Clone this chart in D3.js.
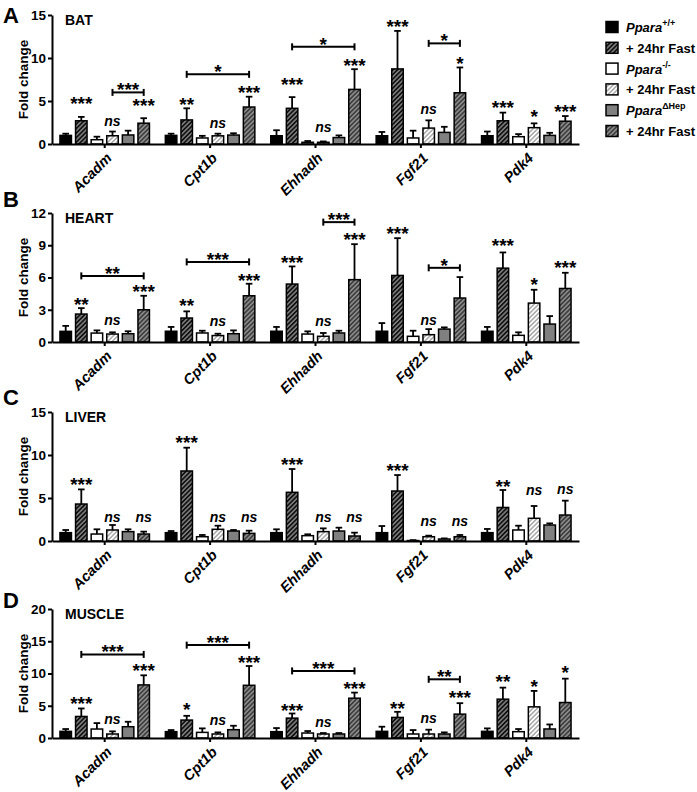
<!DOCTYPE html>
<html><head><meta charset="utf-8">
<script src="https://cdn.jsdelivr.net/npm/d3@7"></script>
<style>body{margin:0;background:#fff} svg{display:block;font-family:"Liberation Sans",Arial,sans-serif}</style>
</head><body><svg id="c" width="697" height="792"></svg>
<script>
const genes = ["Acadm","Cpt1b","Ehhadh","Fgf21","Pdk4"];
const tissues = ["BAT","HEART","LIVER","MUSCLE"];
const panelLetters = ["A","B","C","D"];
const yMaxes = [15,12,15,20];
const yTicks = [[0,5,10,15],[0,3,6,9,12],[0,5,10,15],[0,5,10,15,20]];
const legendMain = ["Ppara","+ 24hr Fast","Ppara","+ 24hr Fast","Ppara","+ 24hr Fast"];
const legendSup = ["+/+","","-/-","","\u0394Hep",""];

// mean fold change per gene, 6 groups each
const batMean = [[1.0,2.7,0.5,0.96,1.05,2.42],[1.0,2.8,0.7,0.95,1.04,4.3],[0.96,4.15,0.2,0.2,0.75,6.35],[0.96,8.73,0.7,1.85,1.35,5.96],[0.96,2.7,0.85,1.9,1.0,2.65]];
const batSem = [[0.2,0.45,0.35,0.49,0.5,0.58],[0.2,1.35,0.25,0.25,0.21,1.2],[0.64,1.3,0.15,0.1,0.25,2.35],[0.44,4.42,0.85,0.9,0.65,2.94],[0.49,0.95,0.3,0.5,0.3,0.6]];
const heartMean = [[0.99,2.6,0.83,0.74,0.77,3.0],[1.0,2.23,0.84,0.6,0.77,4.3],[1.0,5.39,0.74,0.53,0.84,5.8],[1.0,6.19,0.53,0.68,1.2,4.09],[1.0,6.87,0.62,3.62,1.67,4.98]];
const heartSem = [[0.51,0.55,0.25,0.16,0.23,1.3],[0.4,0.62,0.21,0.17,0.31,1.12],[0.4,1.64,0.25,0.31,0.21,3.3],[0.76,3.47,0.52,0.52,0.16,1.95],[0.4,1.46,0.28,1.24,0.74,1.46]];
const liverMean = [[0.97,4.3,0.81,1.28,1.09,0.81],[0.97,8.14,0.5,1.36,1.16,0.89],[0.97,5.66,0.62,1.09,1.16,0.58],[0.97,5.81,0.05,0.5,0.23,0.5],[0.97,3.9,1.28,2.64,1.86,3.02]];
const liverSem = [[0.31,1.7,0.55,0.58,0.27,0.28],[0.19,2.71,0.2,0.42,0.12,0.31],[0.39,2.71,0.16,0.38,0.39,0.39],[0.77,1.86,0.05,0.12,0.07,0.2],[0.43,2.03,0.5,1.43,0.19,1.67]];
const muscleMean = [[1.03,3.34,1.39,0.62,1.75,8.23],[0.98,2.78,0.87,0.62,1.29,8.17],[0.98,3.08,0.77,0.62,0.62,6.17],[1.03,3.19,0.62,0.62,0.62,3.7],[1.03,6.02,0.98,4.83,1.4,5.5]];
const muscleSem = [[0.36,1.24,0.92,0.41,0.77,1.49],[0.25,0.66,0.62,0.25,0.61,2.99],[0.56,0.72,0.31,0.15,0.15,0.87],[0.72,0.87,0.61,0.67,0.25,1.7],[0.46,1.79,0.41,2.47,0.7,3.7]];

// significance labels: [gene index, group index, text, level]
const batLabels = [[0,1,"***",4.8],[0,3,"ns",2.1],[0,5,"***",4.6],[1,1,"**",4.7],[1,3,"ns",1.9],[1,5,"***",6.1],[2,1,"***",7.0],[2,3,"ns",1.4],[2,5,"***",9.2],[3,1,"***",13.8],[3,3,"ns",3.5],[3,5,"*",9.5],[4,1,"***",4.3],[4,3,"*",3.3],[4,5,"***",3.9]];
const heartLabels = [[0,1,"**",3.6],[0,3,"ns",1.6],[0,5,"***",4.8],[1,1,"**",3.5],[1,3,"ns",1.45],[1,5,"***",5.85],[2,1,"***",7.5],[2,3,"ns",1.45],[2,5,"***",9.65],[3,1,"***",10.2],[3,3,"ns",1.6],[4,1,"***",9.05],[4,3,"*",5.4],[4,5,"***",7.0]];
const liverLabels = [[0,1,"***",6.7],[0,3,"ns",2.25],[0,5,"ns",2.25],[1,1,"***",11.55],[1,3,"ns",2.25],[1,5,"ns",2.25],[2,1,"***",9.0],[2,3,"ns",2.25],[2,5,"ns",2.25],[3,1,"***",8.25],[3,3,"ns",1.75],[3,5,"ns",1.75],[4,1,"**",6.5],[4,3,"ns",5.4],[4,5,"ns",5.5]];
const muscleLabels = [[0,1,"***",5.5],[0,3,"ns",2.15],[0,5,"***",10.55],[1,1,"*",4.5],[1,3,"ns",2.0],[1,5,"***",11.9],[2,1,"***",4.4],[2,3,"ns",1.65],[2,5,"***",7.8],[3,1,"**",4.7],[3,3,"ns",2.3],[3,5,"***",6.4],[4,1,"**",8.95],[4,3,"*",8.1],[4,5,"*",10.3]];
// brackets: [gene index, from group, to group, text, level]
const batBrackets = [[0,3,5,"***",6.0],[1,1,5,"*",8.1],[2,1,5,"*",11.3],[3,3,5,"*",11.7]];
const heartBrackets = [[0,1,5,"**",6.15],[1,1,5,"***",7.45],[2,3,5,"***",11.15],[3,3,5,"*",6.9]];
const liverBrackets = [];
const muscleBrackets = [[0,1,5,"***",12.96],[1,1,5,"***",14.4],[2,1,5,"***",10.4],[3,3,5,"**",9.1]];

const means = [batMean,heartMean,liverMean,muscleMean];
const sems = [batSem,heartSem,liverSem,muscleSem];
const labelSets = [batLabels,heartLabels,liverLabels,muscleLabels];
const bracketSets = [batBrackets,heartBrackets,liverBrackets,muscleBrackets];

const svg = d3.select("#c");
svg.append("rect").attr("width",697).attr("height",792).attr("fill","#fff");
const defs = svg.append("defs");
function hatch(id,bg,fg,w){
  const s=3.2;
  const p=defs.append("pattern").attr("id",id).attr("patternUnits","userSpaceOnUse")
    .attr("width",s).attr("height",s).attr("patternTransform","rotate(45)");
  p.append("rect").attr("width",s).attr("height",s).attr("fill",bg);
  p.append("line").attr("x1",0.8).attr("x2",0.8).attr("y1",-1).attr("y2",s+1).attr("stroke",fg).attr("stroke-width",w);
}
hatch("h1","#808080","#111",1.8);
hatch("h2","#fff","#9a9a9a",1.3);
hatch("h3","#8a8a8a","#333",1.4);
const fills = ["#000","url(#h1)","#fff","url(#h2)","#808080","url(#h3)"];

const panelTops = [15,213,412,609];
const plotH = 129;
const letterY = [23,207,405,608];
const x0 = d3.scaleBand().domain(genes).range([52,579]);
const x1 = d3.scaleBand().domain(d3.range(6)).range([0,x0.bandwidth()]).paddingInner(0.263).paddingOuter(0.51);
const cx = (gi,k)=>x0(genes[gi])+x1(k)+x1.bandwidth()/2;
const starFs = 19;

tissues.forEach((t,p)=>{
  const top = panelTops[p], bot = top+plotH;
  const y = d3.scaleLinear().domain([0,yMaxes[p]]).range([bot,top]);
  const g = svg.append("g");
  genes.forEach((gn,gi)=>{
    means[p][gi].forEach((m,k)=>{
      const s = sems[p][gi][k];
      const c = cx(gi,k);
      g.append("line").attr("x1",c).attr("x2",c).attr("y1",y(m)).attr("y2",y(m+s)).attr("stroke","#000").attr("stroke-width",1.8);
      g.append("line").attr("x1",c-3.3).attr("x2",c+3.3).attr("y1",y(m+s)).attr("y2",y(m+s)).attr("stroke","#000").attr("stroke-width",1.8);
      g.append("rect").attr("x",x0(gn)+x1(k)).attr("width",x1.bandwidth())
        .attr("y",y(m)).attr("height",bot-y(m)).attr("fill",fills[k]).attr("stroke","#000").attr("stroke-width",1.5);
    });
  });
  const ya = g.append("g").attr("transform","translate(52,0)")
    .call(d3.axisLeft(y).tickValues(yTicks[p]).tickSize(4).tickSizeOuter(0).tickPadding(2));
  ya.selectAll("text").attr("font-size",13.5).attr("font-weight","bold").attr("fill","#000").attr("font-family","Liberation Sans, Arial, sans-serif");
  ya.select(".domain").attr("stroke-width",2);
  ya.selectAll(".tick line").attr("stroke-width",2);
  const xa = g.append("g").attr("transform",`translate(0,${bot})`)
    .call(d3.axisBottom(x0).tickSize(4).tickSizeOuter(0).tickFormat(""));
  xa.select(".domain").attr("stroke-width",2);
  xa.selectAll(".tick line").attr("stroke-width",2);
  genes.forEach(gn=>{
    g.append("text").attr("transform",`translate(${x0(gn)+x0.bandwidth()/2+8},${bot+15}) rotate(-45)`)
      .attr("text-anchor","end").attr("font-size",14.5).attr("font-weight","bold").attr("font-style","italic").text(gn);
  });
  labelSets[p].forEach(([gi,k,txt,v])=>{
    const isStar = txt.indexOf("*")>=0;
    g.append("text").attr("x",cx(gi,k)).attr("y",isStar? y(v)+0.39*starFs : y(v))
      .attr("text-anchor","middle").attr("font-weight","bold")
      .attr("font-size",isStar?starFs:14).attr("font-style",isStar?"normal":"italic").text(txt);
  });
  bracketSets[p].forEach(([gi,a,b,txt,v])=>{
    const xa1=cx(gi,a), xb=cx(gi,b), yy=y(v);
    g.append("line").attr("x1",xa1).attr("x2",xb).attr("y1",yy).attr("y2",yy).attr("stroke","#000").attr("stroke-width",2);
    [xa1,xb].forEach(xx=>g.append("line").attr("x1",xx).attr("x2",xx).attr("y1",yy-3.5).attr("y2",yy+3.5).attr("stroke","#000").attr("stroke-width",2));
    g.append("text").attr("x",(xa1+xb)/2).attr("y",yy-3.5+0.39*starFs).attr("text-anchor","middle")
      .attr("font-weight","bold").attr("font-size",starFs).text(txt);
  });
  g.append("text").attr("x",65).attr("y",top+10).attr("font-size",14).attr("font-weight","bold").text(t);
  g.append("text").attr("x",3).attr("y",letterY[p]).attr("font-size",22).attr("font-weight","bold").text(panelLetters[p]);
  g.append("text").attr("transform",`translate(27.5,${(top+bot)/2}) rotate(-90)`).attr("text-anchor","middle")
    .attr("font-size",13.5).attr("font-weight","bold").text("Fold change");
});

const lg = svg.append("g");
legendMain.forEach((txt,i)=>{
  const cy = 27 + i*20.8;
  lg.append("rect").attr("x",606).attr("y",cy-5.5).attr("width",12).attr("height",11).attr("fill",fills[i]).attr("stroke","#000").attr("stroke-width",1.5);
  const tx = lg.append("text").attr("x",626).attr("y",cy+5).attr("font-size",13).attr("font-weight","bold");
  if(legendSup[i]){
    tx.append("tspan").attr("font-style","italic").text(txt);
    tx.append("tspan").attr("font-size",9).attr("dy",-6).text(legendSup[i]);
  } else tx.text(txt);
});
</script></body></html>
